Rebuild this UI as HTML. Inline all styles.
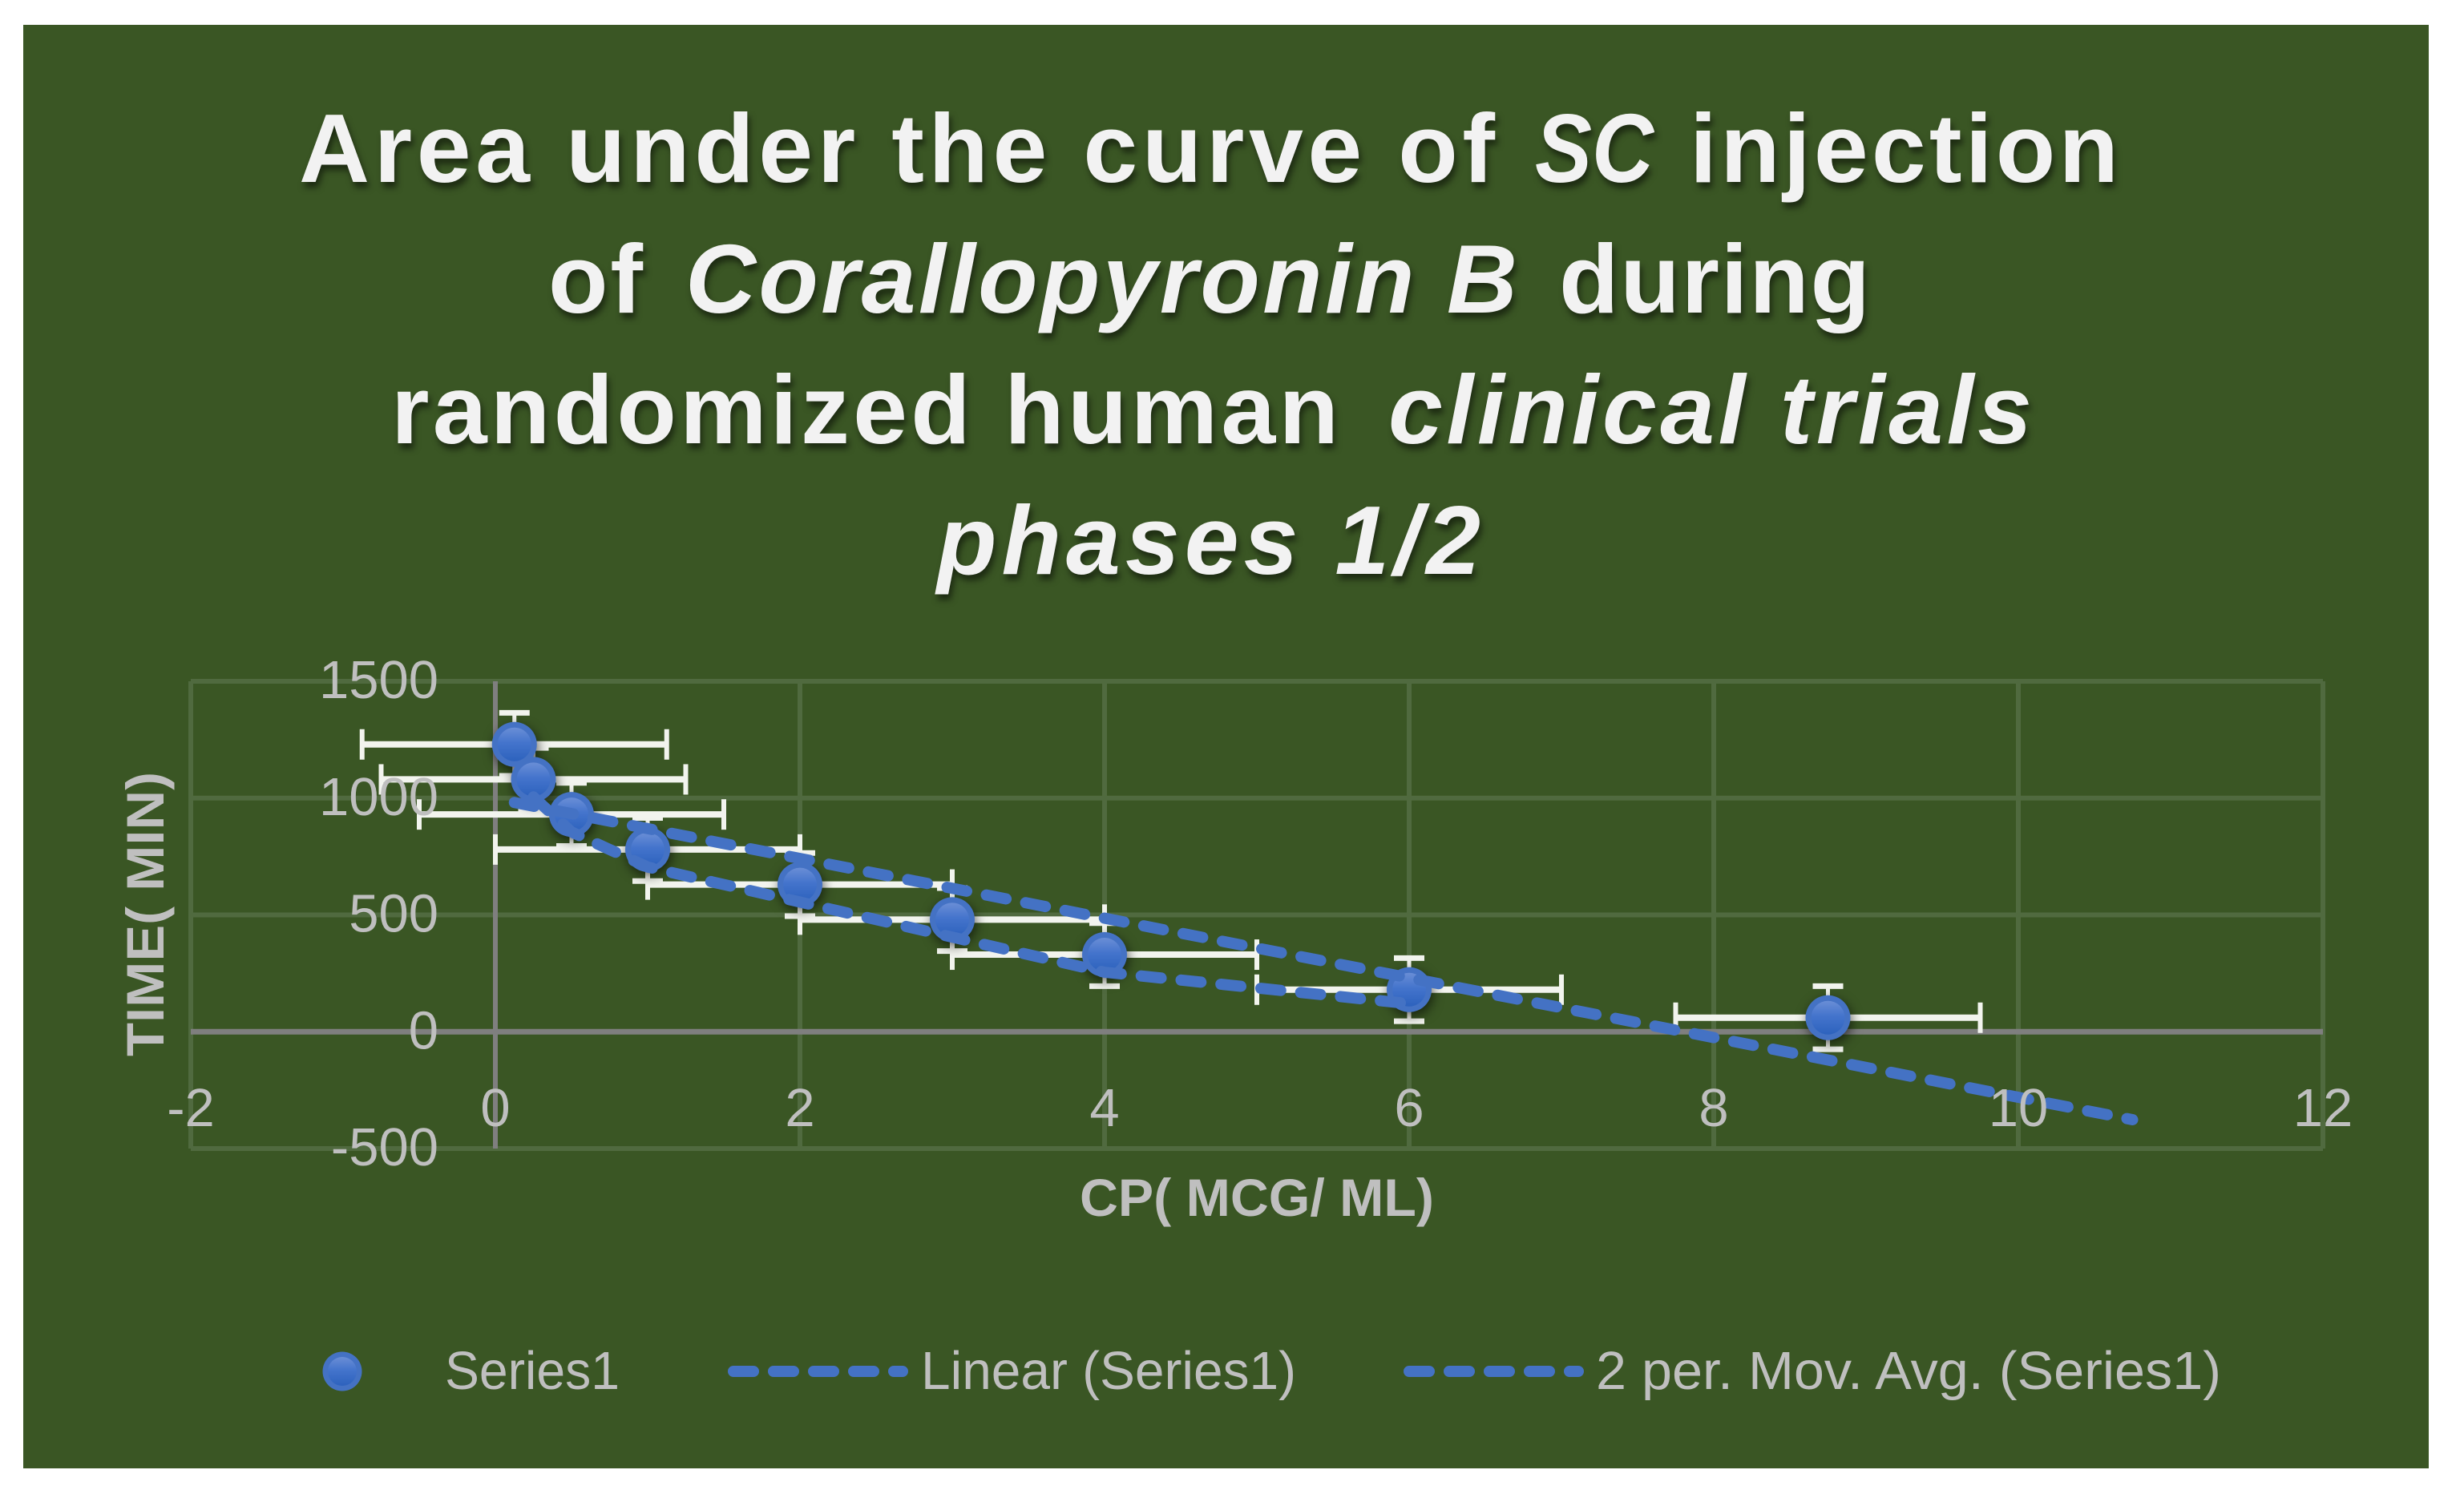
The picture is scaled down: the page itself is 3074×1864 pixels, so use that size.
<!DOCTYPE html>
<html lang="en">
<head>
<meta charset="utf-8">
<title>Area under the curve of SC injection of Corallopyronin B</title>
<style>
html,body{margin:0;padding:0;background:#fff;width:3074px;height:1864px;overflow:hidden}
svg{display:block}
text{font-family:"Liberation Sans",sans-serif}
.title{font-weight:700;font-size:122px;fill:#f2f2f2}
.tick{font-size:67px;fill:#bfbfbf}
.legend-text{font-size:67px;fill:#bfbfbf}
.axis-title{font-weight:700;font-size:66px;fill:#bfbfbf}
.shadow{filter:drop-shadow(3px 7px 4px rgba(0,0,0,.5))}
.marker-shadow{filter:drop-shadow(2px 5px 7px rgba(0,0,0,.6))}
</style>
</head>
<body>
<svg id="chart" xmlns="http://www.w3.org/2000/svg" width="3074" height="1864" viewBox="0 0 3074 1864">
  <defs>
    <linearGradient id="markerGrad" x1="0" y1="0" x2="0" y2="1">
      <stop offset="0" stop-color="#6a8ed6"/>
      <stop offset="0.45" stop-color="#4474cc"/>
      <stop offset="1" stop-color="#2d62bd"/>
    </linearGradient>
  </defs>
  <rect x="29" y="31" width="3001" height="1801" fill="#3a5624"/>

  <g class="shadow">
    <g>
      <text class="title" x="373" y="227" textLength="1492">Area under the curve of</text>
      <text class="title" font-style="italic" x="1915" y="227" textLength="148" lengthAdjust="spacingAndGlyphs">SC</text>
      <text class="title" x="2108" y="227" textLength="535">injection</text>
    </g>
    <g>
      <text class="title" x="684" y="390" textLength="118">of</text>
      <text class="title" font-style="italic" x="855" y="390" textLength="1038">Corallopyronin B</text>
      <text class="title" x="1945" y="390" textLength="388">during</text>
    </g>
    <g>
      <text class="title" x="488" y="553" textLength="1182">randomized human</text>
      <text class="title" font-style="italic" x="1732" y="553" textLength="803">clinical trials</text>
    </g>
    <g>
      <text class="title" font-style="italic" x="1169" y="716" textLength="678">phases 1/2</text>
    </g>
  </g>

  <g id="grid"></g>
  <g id="axes"></g>
  <g id="errors"></g>
  <g id="markers" class="marker-shadow"></g>
  <g id="trends"></g>
  <g id="labels"></g>

  <text class="axis-title" transform="translate(204,1318) rotate(-90)" textLength="355" lengthAdjust="spacingAndGlyphs">TIME( MIN)</text>
  <text class="axis-title" x="1347" y="1517" textLength="442" lengthAdjust="spacingAndGlyphs">CP( MCG/ ML)</text>

  <g>
    <g>
      <circle cx="427" cy="1711" r="24.5" fill="#4472c4"/>
      <circle cx="427" cy="1711" r="18" fill="url(#markerGrad)"/>
      <text class="legend-text" x="555" y="1733" textLength="218" lengthAdjust="spacingAndGlyphs">Series1</text>
    </g>
    <g>
      <line x1="915" y1="1711" x2="1126" y2="1711" stroke="#4472c4" stroke-width="14" stroke-linecap="round" stroke-dasharray="25 25"/>
      <text class="legend-text" x="1149" y="1733" textLength="468" lengthAdjust="spacingAndGlyphs">Linear (Series1)</text>
    </g>
    <g>
      <line x1="1758" y1="1711" x2="1969" y2="1711" stroke="#4472c4" stroke-width="14" stroke-linecap="round" stroke-dasharray="25 25"/>
      <text class="legend-text" x="1991" y="1733" textLength="780" lengthAdjust="spacingAndGlyphs">2 per. Mov. Avg. (Series1)</text>
    </g>
  </g>
</svg>
<script>
// Data
const cpValues = [0.125, 0.25, 0.5, 1, 2, 3, 4, 6, 8.75];
const timeValues = [1230, 1080, 930, 780, 630, 480, 330, 180, 60];
const cpError = [1, 1, 1, 1, 1, 1, 1, 1, 1];
const timeError = [135, 135, 135, 135, 135, 135, 135, 135, 135];
const xTicks = [-2, 0, 2, 4, 6, 8, 10, 12];
const yTicks = [-500, 0, 500, 1000, 1500];
const trendForward = [2];

const NS = 'http://www.w3.org/2000/svg';
const xScale = v => 238 + (v - (-2)) / 14 * (2898 - 238);
const yScale = v => 1433 - (v - (-500)) / 2000 * (1433 - 850);

function make(tag, attrs, parent) {
  const el = document.createElementNS(NS, tag);
  for (const k in attrs) el.setAttribute(k, attrs[k]);
  parent.appendChild(el);
  return el;
}

const grid = document.getElementById('grid');
const axes = document.getElementById('axes');
const errors = document.getElementById('errors');
const markers = document.getElementById('markers');
const trends = document.getElementById('trends');
const labels = document.getElementById('labels');
const gridStyle = {stroke: '#506a3f', 'stroke-width': 6};

xTicks.forEach(t => {
  const l = make('line', Object.assign({x1: xScale(t), x2: xScale(t), y1: yScale(1500), y2: yScale(-500)}, gridStyle), grid);
  
  
  const s = make('text', {x: xScale(t), y: 1405, 'text-anchor': 'middle', class: 'tick'}, labels);
  s.textContent = String(t);
  
  
});

yTicks.forEach(t => {
  const l = make('line', Object.assign({x1: xScale(-2), x2: xScale(12), y1: yScale(t), y2: yScale(t)}, gridStyle), grid);
  
  
  const s = make('text', {x: 547, y: yScale(t) + 21, 'text-anchor': 'end', class: 'tick'}, labels);
  s.textContent = String(t);
  
  
});

const xAxis = make('line', {x1: xScale(-2), x2: xScale(12), y1: yScale(0), y2: yScale(0), stroke: '#7f7f7f', 'stroke-width': 7}, axes);


const yAxis = make('line', {x1: xScale(0), x2: xScale(0), y1: yScale(1500), y2: yScale(-500), stroke: '#7f7f7f', 'stroke-width': 6}, axes);



cpValues.forEach((x, i) => {
  const y = timeValues[i];
  const g = make('g', {stroke: '#f2f4ee', fill: 'none'}, errors);
  
  
  const px = xScale(x), py = yScale(y);
  const x0 = xScale(x - cpError[i]), x1 = xScale(x + cpError[i]);
  const y0 = yScale(y - timeError[i]), y1 = yScale(y + timeError[i]);
  make('line', {x1: x0, x2: x1, y1: py, y2: py, 'stroke-width': 8}, g);
  make('line', {x1: x0, x2: x0, y1: py - 19, y2: py + 19, 'stroke-width': 6}, g);
  make('line', {x1: x1, x2: x1, y1: py - 19, y2: py + 19, 'stroke-width': 6}, g);
  make('line', {x1: px, x2: px, y1: y0, y2: y1, 'stroke-width': 5}, g);
  make('line', {x1: px - 19, x2: px + 19, y1: y0, y2: y0, 'stroke-width': 7}, g);
  make('line', {x1: px - 19, x2: px + 19, y1: y1, y2: y1, 'stroke-width': 7}, g);

  const m = make('g', {}, markers);
  
  
  make('circle', {cx: px, cy: py, r: 28, fill: '#4472c4'}, m);
  make('circle', {cx: px, cy: py, r: 21, fill: 'url(#markerGrad)'}, m);
});

// Linear trendline: least-squares fit of the series, extended forward
const n = cpValues.length;
const meanX = cpValues.reduce((a, b) => a + b, 0) / n;
const meanY = timeValues.reduce((a, b) => a + b, 0) / n;
let sxy = 0, sxx = 0;
cpValues.forEach((x, i) => {
  sxy += (x - meanX) * (timeValues[i] - meanY);
  sxx += (x - meanX) * (x - meanX);
});
const slope = sxy / sxx;
const intercept = meanY - slope * meanX;
const firstX = Math.min(...cpValues);
const lastX = Math.max(...cpValues) + trendForward[0];
const dashStyle = {fill: 'none', stroke: '#4472c4', 'stroke-width': 14, 'stroke-linecap': 'round', 'stroke-dasharray': '25 25'};

const linear = make('line', Object.assign({
  x1: xScale(firstX), y1: yScale(intercept + slope * firstX),
  x2: xScale(lastX), y2: yScale(intercept + slope * lastX)
}, dashStyle), trends);



// Two-period moving average of the series
const avgPts = [];
for (let i = 1; i < n - 1; i++) {
  avgPts.push(xScale(cpValues[i]) + ',' + yScale((timeValues[i] + timeValues[i + 1]) / 2));
}
const movingAvg = make('polyline', Object.assign({points: avgPts.join(' ')}, dashStyle), trends);


</script>
</body>
</html>
